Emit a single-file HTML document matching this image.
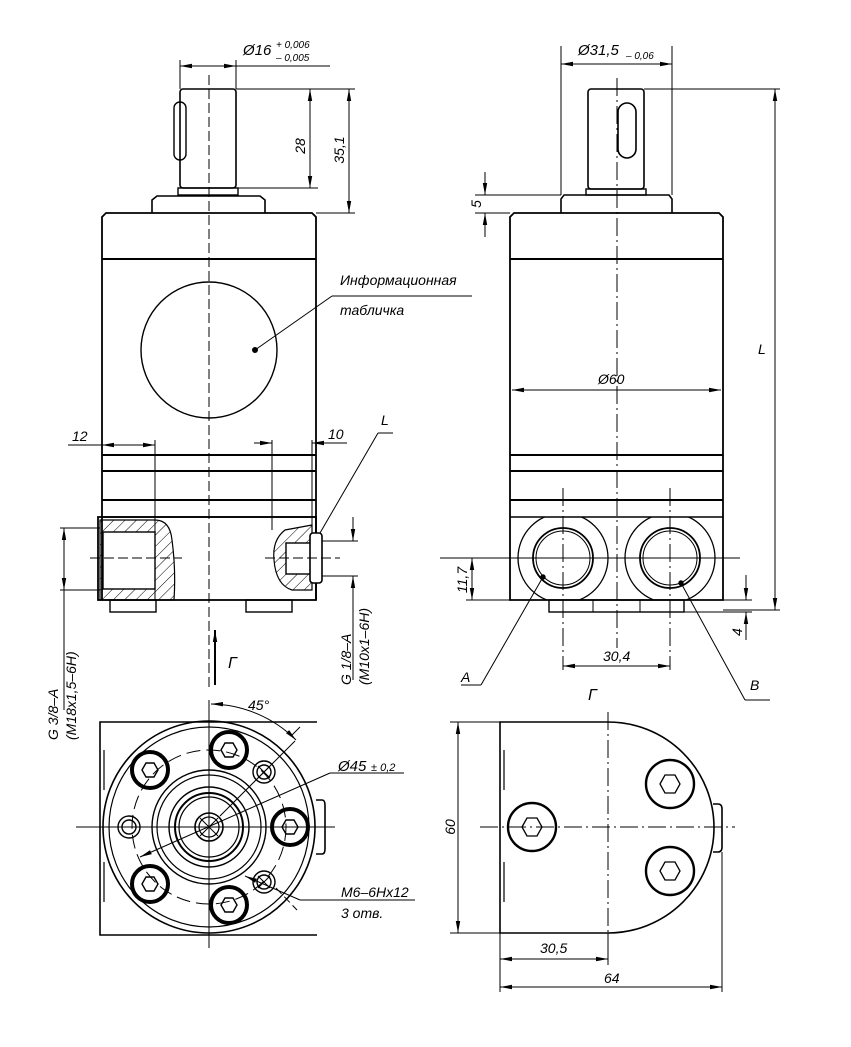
<!DOCTYPE html>
<html><head><meta charset="utf-8"><style>
html,body{margin:0;padding:0;background:#fff}
svg{display:block}
text{font-family:"Liberation Sans",sans-serif;font-style:italic;fill:#000}
</style></head><body>
<svg width="851" height="1047" viewBox="0 0 851 1047" xmlns="http://www.w3.org/2000/svg">
<defs>
<marker id="a" markerWidth="12" markerHeight="6" refX="12" refY="3" orient="auto-start-reverse" markerUnits="userSpaceOnUse"><path d="M0,0.8 L12,3 L0,5.2z" fill="#000"/></marker>
<pattern id="h" width="8" height="8" patternUnits="userSpaceOnUse" patternTransform="rotate(45)"><line x1="0" y1="0" x2="0" y2="8" stroke="#000" stroke-width="1"/></pattern>
<clipPath id="c"><rect x="510" y="517" width="213" height="83"/></clipPath>
</defs>
<g fill="none" stroke="#000" stroke-width="1">
<!-- ===== TOP LEFT VIEW ===== -->
<line x1="209" y1="75" x2="209" y2="690" stroke-dasharray="10,4"/>
<rect x="180" y="89" width="56" height="99" rx="3" stroke-width="1.6"/>
<rect x="174" y="102" width="12" height="58" rx="6" stroke-width="1.4"/>
<rect x="178" y="188" width="60" height="7" stroke-width="1.4"/>
<path d="M152,213 V200 L157,196 H260 L265,200 V213" stroke-width="1.6"/>
<path d="M102,600 V217 L106,213 H312 L316,217 V600" stroke-width="1.8"/>
<line x1="102" y1="259" x2="316" y2="259" stroke-width="2"/>
<circle cx="209" cy="350" r="68" stroke-width="1.4"/>
<line x1="102" y1="455" x2="316" y2="455" stroke-width="2"/>
<line x1="102" y1="471" x2="316" y2="471" stroke-width="2"/>
<line x1="102" y1="500" x2="316" y2="500" stroke-width="2"/>
<line x1="102" y1="517" x2="316" y2="517" stroke-width="1.4"/>
<rect x="98" y="517" width="218" height="83" stroke-width="1.8"/>
<rect x="110" y="600" width="46" height="12" stroke-width="1.4"/>
<rect x="246" y="600" width="46" height="12" stroke-width="1.4"/>
<path d="M100,520 H155 Q170,520 172,540 Q176,570 174,600 H100z" fill="url(#h)" stroke-width="1.2"/>
<rect x="103" y="532" width="52" height="57" fill="#fff" stroke-width="1.4"/>
<line x1="90" y1="558" x2="182" y2="558" stroke-dasharray="10,4"/>
<path d="M312,525 L285,530 Q272,540 274,560 Q276,585 292,590 H312z" fill="url(#h)" stroke-width="1.2"/>
<rect x="286" y="543" width="26" height="31" fill="#fff" stroke-width="1.4"/>
<rect x="310" y="533" width="12" height="50" rx="3" fill="#fff" stroke-width="1.6"/>
<line x1="265" y1="558" x2="340" y2="558" stroke-dasharray="10,4"/>
<line x1="180" y1="60" x2="180" y2="89"/><line x1="236" y1="60" x2="236" y2="89"/>
<line x1="180" y1="66" x2="236" y2="66" marker-start="url(#a)" marker-end="url(#a)"/>
<line x1="236" y1="66" x2="330" y2="66"/>
<line x1="236" y1="89" x2="355" y2="89"/><line x1="238" y1="188" x2="318" y2="188"/><line x1="316" y1="213" x2="355" y2="213"/>
<line x1="310" y1="89" x2="310" y2="188" marker-start="url(#a)" marker-end="url(#a)"/>
<line x1="349" y1="89" x2="349" y2="213" marker-start="url(#a)" marker-end="url(#a)"/>
<line x1="332" y1="296" x2="472" y2="296"/><line x1="332" y1="296" x2="255" y2="350"/>
<circle cx="255" cy="350" r="2.5" fill="#000"/>
<line x1="102" y1="436" x2="102" y2="455"/><line x1="155" y1="440" x2="155" y2="600"/>
<line x1="68" y1="445" x2="155" y2="445" marker-end="url(#a)"/><line x1="102" y1="445" x2="155" y2="445" marker-start="url(#a)"/>
<line x1="272" y1="440" x2="272" y2="530"/><line x1="312" y1="440" x2="312" y2="525"/>
<line x1="254" y1="443" x2="272" y2="443" marker-end="url(#a)"/><line x1="312" y1="443" x2="347" y2="443" marker-start="url(#a)"/>
<line x1="320" y1="533" x2="378" y2="433"/><line x1="378" y1="433" x2="393" y2="433"/>
<line x1="60" y1="528" x2="100" y2="528"/><line x1="60" y1="590" x2="100" y2="590"/>
<line x1="64" y1="528" x2="64" y2="590" marker-start="url(#a)" marker-end="url(#a)"/>
<line x1="64" y1="590" x2="64" y2="710"/>
<line x1="322" y1="541" x2="358" y2="541"/><line x1="322" y1="576" x2="358" y2="576"/>
<line x1="353" y1="517" x2="353" y2="541" marker-end="url(#a)"/><line x1="353" y1="576" x2="353" y2="680" marker-start="url(#a)"/>
<line x1="215" y1="685" x2="215" y2="630" marker-end="url(#a)" stroke-width="2"/>
<!-- ===== TOP RIGHT VIEW ===== -->
<line x1="617" y1="78" x2="617" y2="648" stroke-dasharray="18,4,2,4"/>
<rect x="588" y="89" width="56" height="100" rx="3" stroke-width="1.6"/>
<rect x="618" y="103" width="18" height="55" rx="9" stroke-width="1.6"/>
<rect x="586" y="189" width="60" height="6" stroke-width="1.4"/>
<path d="M561,213 V199 L564,195 H669 L672,199 V213" stroke-width="1.6"/>
<path d="M510,600 V217 L514,213 H719 L723,217 V600 Z" stroke-width="1.8"/>
<line x1="510" y1="259" x2="723" y2="259" stroke-width="2"/>
<line x1="510" y1="455" x2="723" y2="455" stroke-width="2"/>
<line x1="510" y1="471" x2="723" y2="471" stroke-width="2"/>
<line x1="510" y1="500" x2="723" y2="500" stroke-width="2"/>
<line x1="510" y1="517" x2="723" y2="517" stroke-width="1.4"/>
<g clip-path="url(#c)" stroke-width="1.3"><circle cx="563" cy="558" r="45"/><circle cx="670" cy="558" r="45"/></g>
<circle cx="563" cy="558" r="30" stroke-width="1.8"/><circle cx="563" cy="558" r="27" stroke-width="1"/>
<circle cx="670" cy="558" r="30" stroke-width="1.8"/><circle cx="670" cy="558" r="27" stroke-width="1"/>
<line x1="440" y1="558" x2="740" y2="558"/>
<line x1="563" y1="488" x2="563" y2="670" stroke-dasharray="18,4,2,4"/>
<line x1="670" y1="488" x2="670" y2="670" stroke-dasharray="18,4,2,4"/>
<rect x="549" y="600" width="135" height="12" stroke-width="1.4"/>
<line x1="593" y1="600" x2="593" y2="612"/><line x1="640" y1="600" x2="640" y2="612"/>
<line x1="561" y1="46" x2="561" y2="195"/><line x1="672" y1="46" x2="672" y2="195"/>
<line x1="561" y1="64" x2="672" y2="64" marker-start="url(#a)" marker-end="url(#a)"/>
<line x1="644" y1="89" x2="780" y2="89"/><line x1="723" y1="610" x2="780" y2="610"/>
<line x1="775" y1="89" x2="775" y2="610" marker-start="url(#a)" marker-end="url(#a)"/>
<line x1="475" y1="195" x2="561" y2="195"/><line x1="475" y1="213" x2="510" y2="213"/>
<line x1="485" y1="172" x2="485" y2="195" marker-end="url(#a)"/><line x1="485" y1="213" x2="485" y2="237" marker-start="url(#a)"/>
<line x1="512" y1="390" x2="721" y2="390" marker-start="url(#a)" marker-end="url(#a)"/>
<line x1="466" y1="600" x2="510" y2="600"/>
<line x1="472" y1="558" x2="472" y2="600" marker-start="url(#a)" marker-end="url(#a)"/>
<line x1="684" y1="600" x2="752" y2="600"/><line x1="684" y1="612" x2="752" y2="612"/>
<line x1="746" y1="575" x2="746" y2="600" marker-end="url(#a)"/><line x1="746" y1="612" x2="746" y2="640" marker-start="url(#a)"/>
<line x1="563" y1="666" x2="670" y2="666" marker-start="url(#a)" marker-end="url(#a)"/>
<line x1="543" y1="577" x2="481" y2="685"/><line x1="461" y1="685" x2="481" y2="685"/>
<circle cx="543" cy="577" r="2.2" fill="#000"/>
<line x1="681" y1="583" x2="745" y2="700"/><line x1="745" y1="700" x2="770" y2="700"/>
<circle cx="681" cy="583" r="2.2" fill="#000"/>
<!-- ===== BOTTOM LEFT VIEW ===== -->
<path d="M317,722 H100 V935 H317" stroke-width="1.6"/>
<line x1="104" y1="750" x2="104" y2="790" stroke-width="1.2"/>
<line x1="104" y1="862" x2="104" y2="902" stroke-width="1.2"/>
<line x1="209" y1="700" x2="209" y2="948"/>
<line x1="76" y1="827" x2="335" y2="827"/>
<circle cx="209" cy="827" r="106" stroke-width="1.6"/>
<circle cx="209" cy="827" r="100" stroke-width="1.2"/>
<circle cx="209" cy="827" r="77" stroke-dasharray="14,6"/>
<circle cx="209" cy="827" r="57" stroke-width="1.4"/>
<circle cx="209" cy="827" r="52" stroke-width="1.2"/>
<circle cx="209" cy="827" r="40" stroke-width="1.4"/>
<circle cx="209" cy="827" r="34" stroke-width="2"/>
<circle cx="209" cy="827" r="30" stroke-width="1.2"/>
<circle cx="209" cy="827" r="14" stroke-width="1.6"/>
<circle cx="209" cy="827" r="10" stroke-width="1.2"/>
<line x1="200" y1="818" x2="218" y2="836"/><line x1="200" y1="836" x2="218" y2="818"/>
<path d="M316,800 H322 Q325,800 325,805 V849 Q325,854 322,854 H316" stroke-width="1.6"/>
<g stroke-width="4"><circle cx="229" cy="750" r="18"/><circle cx="150" cy="770" r="18"/><circle cx="290" cy="827" r="18"/><circle cx="150" cy="884" r="18"/><circle cx="229" cy="905" r="18"/></g>
<g stroke-width="1.4">
<polygon points="221,750 225,743 233,743 237,750 233,757 225,757"/>
<polygon points="142,770 146,763 154,763 158,770 154,777 146,777"/>
<polygon points="282,827 286,820 294,820 298,827 294,834 286,834"/>
<polygon points="142,884 146,877 154,877 158,884 154,891 146,891"/>
<polygon points="221,905 225,898 233,898 237,905 233,912 225,912"/>
<circle cx="264" cy="772" r="11"/><circle cx="264" cy="772" r="7"/>
<circle cx="264" cy="882" r="11"/><circle cx="264" cy="882" r="7"/>
<circle cx="129" cy="827" r="11"/><circle cx="129" cy="827" r="7"/>
</g>
<line x1="258" y1="766" x2="270" y2="778"/><line x1="258" y1="778" x2="270" y2="766"/>
<line x1="258" y1="876" x2="270" y2="888"/><line x1="258" y1="888" x2="270" y2="876"/>
<line x1="220" y1="816" x2="295" y2="741"/>
<path d="M211,704 A123,123 0 0 1 296,740" marker-start="url(#a)" marker-end="url(#a)"/>
<line x1="291" y1="736" x2="300" y2="727"/>
<line x1="140" y1="857" x2="330" y2="773" marker-start="url(#a)"/>
<line x1="330" y1="773" x2="404" y2="773"/>
<line x1="245" y1="876" x2="300" y2="900" marker-start="url(#a)"/>
<line x1="276" y1="888" x2="297" y2="910" stroke-dasharray="8,4"/>
<line x1="300" y1="900" x2="415" y2="900"/>
<!-- ===== BOTTOM RIGHT VIEW ===== -->
<path d="M608,722 H500 V933 H608 A106,105.5 0 0 0 608,722" stroke-width="1.6"/>
<line x1="504" y1="750" x2="504" y2="790" stroke-width="1.2"/>
<line x1="504" y1="862" x2="504" y2="902" stroke-width="1.2"/>
<line x1="608" y1="712" x2="608" y2="933" stroke-dasharray="18,4,2,4"/>
<line x1="480" y1="827" x2="735" y2="827" stroke-dasharray="18,4,2,4"/>
<path d="M713,804 H718 Q722,804 722,809 V847 Q722,852 718,852 H713" stroke-width="1.6"/>
<g stroke-width="2.4"><circle cx="532" cy="827" r="24"/><circle cx="670" cy="784" r="24"/><circle cx="670" cy="871" r="24"/></g>
<g stroke-width="1.3">
<polygon points="522,827 527,818 537,818 542,827 537,836 527,836"/>
<polygon points="660,784 665,775 675,775 680,784 675,793 665,793"/>
<polygon points="660,871 665,862 675,862 680,871 675,880 665,880"/>
</g>
<line x1="450" y1="722" x2="500" y2="722"/><line x1="450" y1="933" x2="500" y2="933"/>
<line x1="458" y1="722" x2="458" y2="933" marker-start="url(#a)" marker-end="url(#a)"/>
<line x1="500" y1="933" x2="500" y2="992"/><line x1="608" y1="933" x2="608" y2="965"/><line x1="722" y1="852" x2="722" y2="992"/>
<line x1="500" y1="959" x2="608" y2="959" marker-start="url(#a)" marker-end="url(#a)"/>
<line x1="500" y1="987" x2="722" y2="987" marker-start="url(#a)" marker-end="url(#a)"/>
</g>
<g font-size="14">
<text x="243" y="55" font-size="15">Ø16</text>
<text x="276" y="48" font-size="10">+ 0,006</text>
<text x="276" y="61" font-size="10">– 0,005</text>
<text transform="translate(305,146) rotate(-90)" text-anchor="middle">28</text>
<text transform="translate(344,150) rotate(-90)" text-anchor="middle">35,1</text>
<text x="340" y="285">Информационная</text>
<text x="340" y="315">табличка</text>
<text x="72" y="441">12</text>
<text x="328" y="439">10</text>
<text x="381" y="425">L</text>
<text transform="translate(58,740) rotate(-90)">G 3/8–A</text>
<text transform="translate(76,740) rotate(-90)">(M18x1,5–6H)</text>
<text transform="translate(351,685) rotate(-90)">G 1/8–A</text>
<text transform="translate(369,685) rotate(-90)">(M10x1–6H)</text>
<text x="228" y="668" font-size="16">Г</text>
<text x="578" y="55" font-size="15">Ø31,5</text>
<text x="626" y="59" font-size="10">– 0,06</text>
<text transform="translate(481,204) rotate(-90)" text-anchor="middle">5</text>
<text x="598" y="384">Ø60</text>
<text x="758" y="354">L</text>
<text transform="translate(467,580) rotate(-90)" text-anchor="middle">11,7</text>
<text transform="translate(742,636) rotate(-90)">4</text>
<text x="603" y="661">30,4</text>
<text x="461" y="682">A</text>
<text x="750" y="690">B</text>
<text x="588" y="700" font-size="16">Г</text>
<text x="248" y="710">45°</text>
<text x="338" y="771" font-size="15">Ø45</text>
<text x="371" y="771" font-size="11">± 0,2</text>
<text x="341" y="897">M6–6Hx12</text>
<text x="341" y="918">3 отв.</text>
<text transform="translate(455,827) rotate(-90)" text-anchor="middle">60</text>
<text x="540" y="953">30,5</text>
<text x="604" y="983">64</text>
</g>
</svg>
</body></html>
